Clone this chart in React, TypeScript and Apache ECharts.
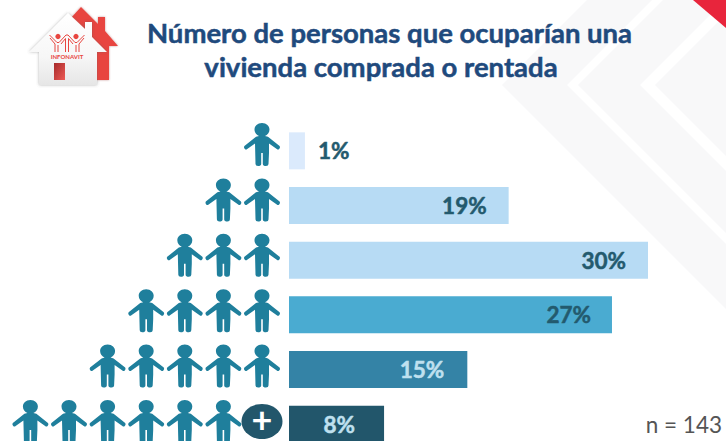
import React, { useEffect, useRef } from "react";
import * as echarts from "echarts";

const titleLines = ["Número de personas que ocuparían una", "vivienda comprada o rentada"];
const occupants = ["1", "2", "3", "4", "5", "6+"];
const shares = [1.35, 18.6, 30.4, 27.35, 15.1, 8.05];
const personCounts = [1, 2, 3, 4, 5, 6];
const plusRows = [5];
const sampleNote = "n = 143";
const logoText = "INFONAVIT";

const barColors = ["#dbeafc", "#b7dbf4", "#b7dbf4", "#4aabd1", "#3483a6", "#22566b"];
const labelColors = ["#235a6e", "#235a6e", "#235a6e", "#235a6e", "#bfe0ef", "#bfe0ef"];
const labelGaps = [13, 22, 22, 21, 23, 29];
const titleCentres = [384.5, 376];
const titleTops = [10, 44];

const PERSON =
  "path://M18 0C22.5 0 25.5 3 25.5 6.5C25.5 9.5 23.5 12 21 13L24 13.8L35.6 23Q36.6 24.6 35.2 26Q34 27 32.8 26L25 20.5L25 30L24.5 41Q24.5 43 22 43Q19 43 18.8 41L18.8 30L17.2 30L17.2 41Q17 43 14 43Q11.5 43 11.5 41L11 20.5L3.2 26Q2 27 .8 26Q-.6 24.6 .4 23L12 13.8L15 13C12.5 12 10.5 9.5 10.5 6.5C10.5 3 13.5 0 18 0Z";

const BAND = "#f8f8f9";
const RED = "#e8453f";

const personPoints = personCounts.flatMap((n, row) =>
  Array.from({ length: n }, (_, k) => [k + (plusRows.includes(row) ? 1 : 0), row])
);

const poly = (points: number[][], fill: any, extra: any = {}) => ({
  type: "polygon",
  silent: true,
  shape: { points },
  style: { fill, ...extra },
});
const line = (points: number[][], w = 1) => ({
  type: "polyline",
  silent: true,
  shape: { points },
  style: { stroke: RED, lineWidth: w, fill: "none" },
});

const background = [
  poly([[587, 0], [652, 0], [567, 85], [726, 244], [726, 309], [502, 85]], BAND),
  poly([[663, 0], [725, 0], [640, 85], [726, 171], [726, 233], [578, 85]], BAND),
  poly([[726, 14], [655, 85], [726, 156]], BAND),
  poly([[693, 0], [726, 0], [726, 28]], "#e8253c"),
];

const logo = [
  poly(
    [[81, 7], [98, 24], [98, 17], [105, 17], [105, 31], [118, 46], [109, 46], [109, 80], [90, 80], [60, 30]],
    RED,
    { shadowBlur: 2, shadowColor: "rgba(120,0,0,0.4)" }
  ),
  poly(
    [[68, 13], [85, 29], [85, 22], [92, 22], [92, 37], [107, 52], [97, 52], [97, 85], [39, 85], [39, 52], [29, 52]],
    new echarts.graphic.LinearGradient(0, 0, 0, 1, [
      { offset: 0, color: "#ffffff" },
      { offset: 0.6, color: "#f7f7f7" },
      { offset: 1, color: "#e6e6e6" },
    ]),
    { shadowBlur: 3, shadowColor: "rgba(90,90,90,0.45)" }
  ),
  {
    type: "rect",
    silent: true,
    shape: { x: 54, y: 63, width: 11, height: 17 },
    style: {
      fill: new echarts.graphic.LinearGradient(0, 0, 1, 1, [
        { offset: 0, color: "#a52a2a" },
        { offset: 1, color: "#ee5a55" },
      ]),
    },
  },
  { type: "circle", silent: true, shape: { cx: 58, cy: 36.5, r: 2.6 }, style: { fill: RED } },
  { type: "circle", silent: true, shape: { cx: 76, cy: 36.5, r: 2.6 }, style: { fill: RED } },
  line([[49.5, 35], [57, 42.5], [59, 42.5], [66, 35], [68, 35], [75, 42.5], [77, 42.5], [84.5, 35]]),
  line([[50, 38], [55, 44], [55, 52]]),
  line([[58, 45], [58, 52]]),
  line([[61, 44], [65.5, 38.5], [65.5, 52]]),
  line([[73, 44], [68.5, 38.5], [68.5, 52]]),
  line([[76, 45], [76, 52]]),
  line([[84, 38], [79, 44], [79, 52]]),
  {
    type: "text",
    silent: true,
    style: {
      x: 67,
      y: 56,
      text: logoText,
      fill: RED,
      font: "bold 6px Lato",
      align: "center",
      verticalAlign: "middle",
    },
  },
];

export default function App() {
  const ref = useRef<HTMLDivElement>(null);
  useEffect(() => {
    const chart = echarts.init(ref.current!, null, { renderer: "svg" });
    chart.setOption({
      animation: false,
      backgroundColor: "#ffffff",
      title: titleLines.map((text, i) => ({
        text,
        left: titleCentres[i],
        top: titleTops[i],
        textAlign: "center",
        textStyle: {
          fontFamily: "Lato",
          fontWeight: "bold",
          fontSize: 27.5,
          lineHeight: 34,
          color: "#1f4a7d",
          textBorderColor: "#1f4a7d",
          textBorderWidth: 0.5,
        },
      })),
      grid: [
        { left: 289, top: 123.5, width: 359, height: 328 },
        { left: 30.4, top: 144.5, width: 231.6, height: 277 },
      ],
      xAxis: [
        { type: "value", gridIndex: 0, min: 0, max: 30.4, show: false },
        { type: "value", gridIndex: 1, min: 0, max: 6, inverse: true, show: false },
      ],
      yAxis: [
        { type: "category", gridIndex: 0, data: occupants, inverse: true, show: false },
        { type: "value", gridIndex: 1, min: 0, max: 5, inverse: true, show: false },
      ],
      series: [
        {
          type: "bar",
          xAxisIndex: 0,
          yAxisIndex: 0,
          barWidth: 37,
          clip: false,
          data: shares.map((v, i) => ({
            value: v,
            itemStyle: { color: barColors[i] },
            label: {
              show: true,
              position: i === 0 ? "right" : "insideRight",
              distance: labelGaps[i],
              formatter: Math.round(v) + "%",
              color: labelColors[i],
              fontFamily: "Lato",
              fontWeight: "bold",
              fontSize: 22.5,
              textBorderColor: labelColors[i],
              textBorderWidth: 0.5,
            },
          })),
        },
        {
          type: "scatter",
          xAxisIndex: 1,
          yAxisIndex: 1,
          symbol: PERSON,
          symbolSize: [36, 43],
          clip: false,
          itemStyle: { color: "#1f7f9c", opacity: 1 },
          data: personPoints,
        },
        {
          type: "scatter",
          xAxisIndex: 1,
          yAxisIndex: 1,
          symbol: "circle",
          symbolSize: [41, 35],
          clip: false,
          itemStyle: { color: "#22566b", opacity: 1 },
          label: {
            show: true,
            position: "inside",
            offset: [0, -3],
            formatter: "+",
            color: "#ffffff",
            fontFamily: "Lato",
            fontWeight: "bold",
            fontSize: 36,
          },
          data: plusRows.map((r) => [0, r]),
        },
      ],
      graphic: [
        ...background,
        ...logo,
        {
          type: "text",
          silent: true,
          z: 5,
          style: {
            x: 722,
            y: 424,
            text: sampleNote,
            fill: "#555555",
            font: "22.5px Lato",
            align: "right",
            verticalAlign: "middle",
          },
        },
      ],
    });
    return () => chart.dispose();
  }, []);
  return (
    <div style={{ position: "absolute", left: 0, top: 0, width: 726, height: 441, overflow: "hidden" }}>
      <div ref={ref} style={{ width: 726, height: 460 }} />
    </div>
  );
}
